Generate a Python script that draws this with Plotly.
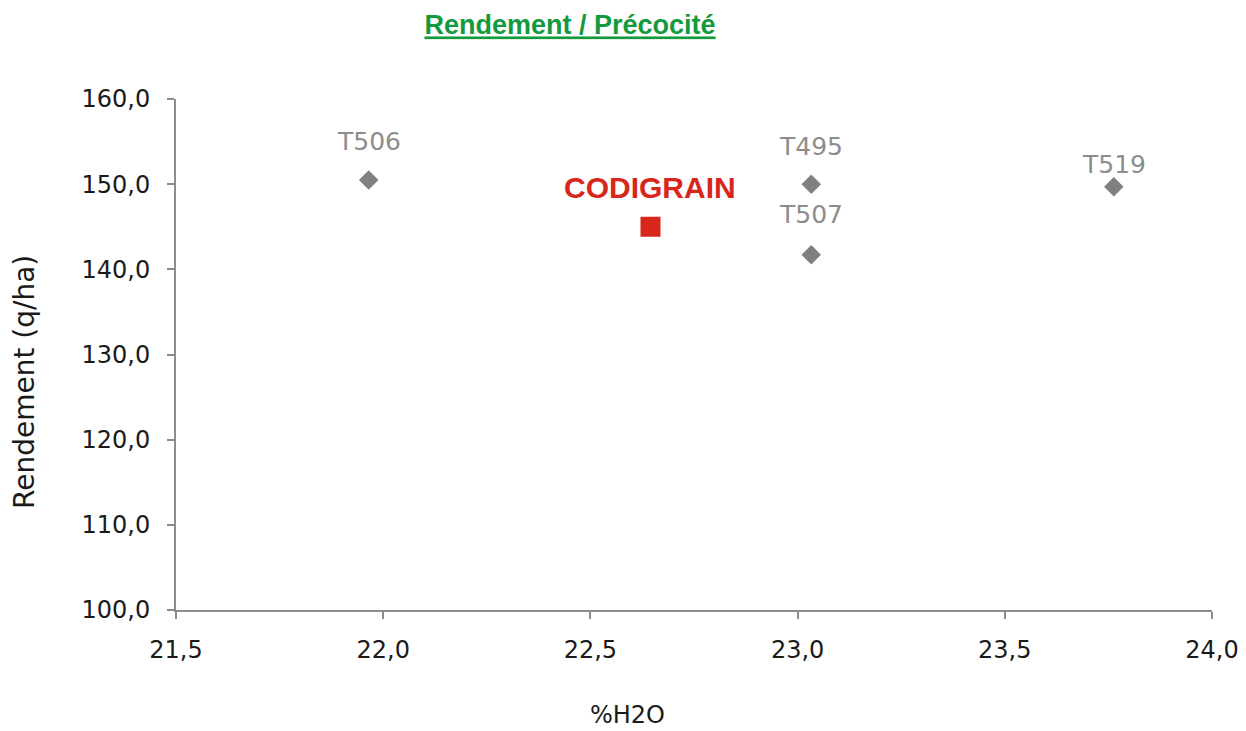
import plotly.graph_objects as go

names = ["T506", "T495", "T507", "T519"]
h2o = [21.965, 23.033, 23.033, 23.763]
rendement = [150.5, 150.0, 141.7, 149.7]
label_shift = [38, 38, 40, 22]

codi_name = "CODIGRAIN"
codi_h2o = [22.645]
codi_rdt = [145.0]

x_ticks = [21.5, 22.0, 22.5, 23.0, 23.5, 24.0]
y_ticks = [100, 110, 120, 130, 140, 150, 160]

x_title = "%H2O"
y_title = "Rendement (q/ha)"

W, H, OFF = 1238, 723, 8

fig = go.Figure()
fig.add_trace(go.Scatter(
    x=h2o, y=rendement, mode="markers",
    marker=dict(symbol="diamond", size=15, color="#808080"),
    showlegend=False))
fig.add_trace(go.Scatter(
    x=codi_h2o, y=codi_rdt, mode="markers",
    marker=dict(symbol="square", size=20, color="#d9261c"),
    showlegend=False))

for n, x, y, s in zip(names, h2o, rendement, label_shift):
    fig.add_annotation(x=x, y=y, text=n, showarrow=False, yshift=s,
                       font=dict(family="DejaVu Sans", size=25, color="#8c8c8c"))
fig.add_annotation(x=codi_h2o[0], y=codi_rdt[0], text="<b>" + codi_name + "</b>",
                   showarrow=False, yshift=39,
                   font=dict(family="Liberation Sans, Arial", size=30, color="#d9261c"))

# axis titles as paper annotations (offset like the original)
fig.add_annotation(xref="paper", yref="paper", x=(627 - 176) / (1212 - 176),
                   y=-(715 - 610) / (610 - 99), text=x_title, showarrow=False,
                   xanchor="center", yanchor="middle",
                   font=dict(family="DejaVu Sans", size=24, color="#1a1a1a"))
fig.add_annotation(xref="paper", yref="paper", x=-(176 - 24) / (1212 - 176),
                   y=(610 - 382) / (610 - 99), text=y_title, showarrow=False, textangle=-90,
                   xanchor="center", yanchor="middle",
                   font=dict(family="DejaVu Sans", size=28, color="#1a1a1a"))

fig.update_layout(
    width=W, height=H,
    margin=dict(l=176 - OFF, r=34, t=99 - OFF, b=121, autoexpand=False),
    paper_bgcolor="white", plot_bgcolor="white",
    separators=", ",
    title=dict(text="<b><u>Rendement / Précocité</u></b>", x=(570 - OFF) / W, xanchor="center",
               y=1 - (25 - OFF) / H, yanchor="middle",
               font=dict(family="Liberation Sans, Arial", size=27, color="#139a3c")),
    font=dict(family="DejaVu Sans", color="#1a1a1a"),
)
axis_common = dict(showgrid=False, zeroline=False, showline=True, linecolor="#8c8c8c", linewidth=2,
                   ticks="outside", ticklen=7, tickcolor="#8c8c8c", tickwidth=1.5, automargin=False,
                   tickformat=".1f", tickfont=dict(family="DejaVu Sans", size=24, color="#1a1a1a"))
fig.update_xaxes(range=[21.5, 24.0], tickvals=x_ticks, ticklabelstandoff=10, **axis_common)
fig.update_yaxes(range=[100, 160], tickvals=y_ticks, ticklabelstandoff=12, **axis_common)

fig.write_html("out.html")
